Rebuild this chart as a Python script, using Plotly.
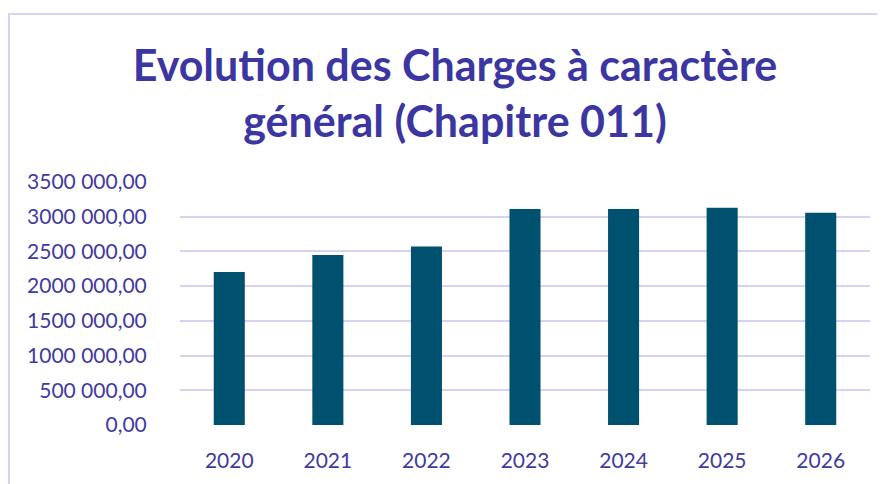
import plotly.graph_objects as go

years = ["2020", "2021", "2022", "2023", "2024", "2025", "2026"]
charges = [2205000, 2447000, 2570000, 3111000, 3110000, 3130000, 3058000]
y_tick_values = [0, 500000, 1000000, 1500000, 2000000, 2500000, 3000000, 3500000]
y_tick_labels = ["0,00", "500 000,00", "1000 000,00", "1500 000,00", "2000 000,00",
                 "2500 000,00", "3000 000,00", "3500 000,00"]

title_color = "#3b36a2"
text_color = "#3f3ba0"
grid_color = "#d6d2f0"
bar_color = "#00506f"
font_family = "Lato"

fig = go.Figure(go.Bar(x=years, y=charges, marker=dict(color=bar_color, line=dict(width=0)),
                       width=0.315))

# page has an 8px body margin, so figure is sized to fit the window
W, H = 877, 476
L, R, T, B = 172, 15, 174, 56
pw, ph = W - L - R, H - T - B

def px_to_paper_x(px):
    return (px - L) / pw

def py_to_paper_y(py):
    return (H - B - py) / ph

fig.update_layout(
    width=W, height=H,
    margin=dict(l=L, r=R, t=T, b=B),
    paper_bgcolor="white", plot_bgcolor="white",
    showlegend=False,
    title=dict(text="<b>Evolution des Charges à caractère<br>général (Chapitre 011)</b>",
               font=dict(family=font_family, size=43, color=title_color),
               x=447 / W, xanchor="center", y=1 - 73 / H, yanchor="middle",
               xref="container", yref="container"),
    xaxis=dict(showgrid=False, zeroline=False, showline=False,
               tickfont=dict(family=font_family, size=21, color=text_color),
               ticks="outside", ticklen=17, tickcolor="rgba(0,0,0,0)"),
    yaxis=dict(range=[0, 3500000], tickvals=y_tick_values, ticktext=y_tick_labels,
               showgrid=True, gridcolor=grid_color, gridwidth=2, zeroline=False,
               tickfont=dict(family=font_family, size=21, color=text_color),
               ticks="outside", ticklen=28, tickcolor="rgba(0,0,0,0)"),
    shapes=[
        dict(type="line", xref="paper", yref="paper",
             x0=px_to_paper_x(1), x1=px_to_paper_x(1), y0=py_to_paper_y(4), y1=py_to_paper_y(480),
             line=dict(color=grid_color, width=2)),
        dict(type="line", xref="paper", yref="paper",
             x0=px_to_paper_x(0), x1=px_to_paper_x(880), y0=py_to_paper_y(4), y1=py_to_paper_y(4),
             line=dict(color=grid_color, width=2)),
    ],
)

fig.write_html("out.html")
